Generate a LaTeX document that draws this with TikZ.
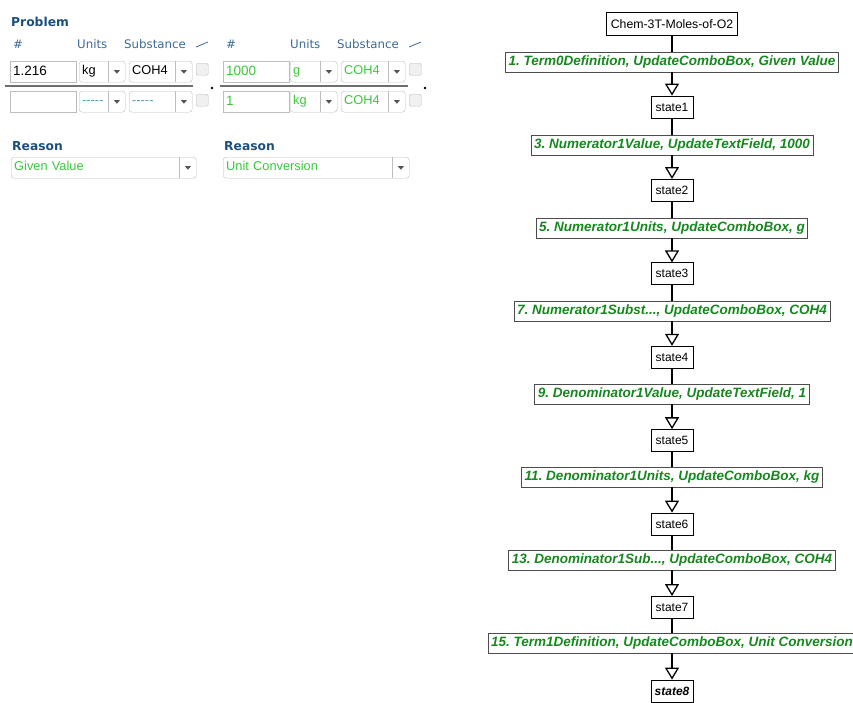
\documentclass[tikz,border=0pt]{standalone}
\usepackage{fontspec}
\setmainfont{Liberation Sans}
\newfontfamily\headfont{DejaVu Sans}
\usetikzlibrary{arrows.meta}
\frenchspacing

\begin{document}
\begin{tikzpicture}[x=1pt, y=-1pt,
    headtext/.style={anchor=west, inner sep=0pt, text=headBlue, font=\headfont\fontsize{12.3}{14}\selectfont\bfseries},
    coltext/.style={anchor=west, inner sep=0pt, text=colBlue, font=\headfont\fontsize{11.8}{14}\selectfont},
    fieldbox/.style={draw=fieldGrey, fill=white, anchor=north west, minimum height=21pt, inner xsep=3pt, inner ysep=0pt, text height=9.5pt, text depth=2.5pt, align=left, font=\fontsize{13.5}{15}\selectfont},
    combobox/.style={draw=fieldGrey, fill=white, rounded corners=3pt, anchor=north west, minimum height=21pt, inner xsep=3pt, inner ysep=0pt, text height=9pt, text depth=3pt, align=left, font=\fontsize{12.8}{15}\selectfont},
    checkbox/.style={draw=fieldGrey, fill=gray!12, rounded corners=1.5pt, anchor=north west, minimum size=12pt, inner sep=0pt},
    rootbox/.style={draw, fill=white, line width=0.8pt, minimum height=23pt, inner xsep=4pt, font=\fontsize{12.3}{14}\selectfont},
    statebox/.style={draw, fill=white, line width=0.8pt, minimum width=42pt, minimum height=22pt, inner xsep=2pt, font=\fontsize{12}{14}\selectfont},
    steplabel/.style={draw=black!70, fill=white, line width=0.8pt, minimum height=20pt, inner xsep=3pt, inner ysep=2pt, text=stepGreen, font=\fontsize{13.5}{15}\selectfont\bfseries\itshape},
    flowline/.style={line width=1.8pt},
    flowarrow/.style={line width=1.8pt, -{Triangle[open, length=12pt, width=14pt, line width=1.3pt]}}
]
    % Define colours
    \definecolor{headBlue}{HTML}{1B4F7E}
    \definecolor{colBlue}{HTML}{3C6A96}
    \definecolor{formGreen}{HTML}{3CC83C}
    \definecolor{stepGreen}{HTML}{16881E}
    \definecolor{fieldGrey}{HTML}{BDBDBD}
    \definecolor{ruleGrey}{HTML}{6E6E6E}
    \definecolor{arrowGrey}{HTML}{555555}
    \definecolor{dashTeal}{HTML}{45A3B0}

    % Define x position of the flow
    \def\flowX{672}

    \useasboundingbox (0,0) rectangle (853,702);

    % Problem and column headers
    \node[headtext] (problem) at (11,22) {Problem};
    \foreach \gx/\g in {0/a, 213/b} {
        \node[coltext] (hash\g) at (\gx+13,44) {\#};
        \node[coltext] (units\g) at (\gx+77,44) {Units};
        \node[coltext] (subst\g) at (\gx+124,44) {Substance};
        \draw[colBlue, line width=0.8pt] (\gx+196,47) -- (\gx+208,42);
    }

    % Draw the text fields
    \foreach \fx/\fy/\txt/\col [count=\n] in {10/61/1.216/black, 10/91//black, 223/61/1000/formGreen, 223/91/1/formGreen}
        \node[fieldbox, text width=60pt, text=\col] (field\n) at (\fx,\fy) {\txt};

    % Draw the combo boxes with their drop-down buttons
    \foreach \cx/\cy/\cw/\txt/\col [count=\n] in {79/61/46/kg/black, 129/61/63/COH4/black,
        79/91/46/-{}-{}-{}-{}-/dashTeal, 129/91/63/-{}-{}-{}-{}-/dashTeal,
        290/61/47/g/formGreen, 341/61/64/COH4/formGreen, 290/91/47/kg/formGreen, 341/91/64/COH4/formGreen,
        11/157/185/Given Value/formGreen, 223/157/186/Unit Conversion/formGreen} {
        \node[combobox, text width=\cw pt-6pt, text=\col] (combo\n) at (\cx,\cy) {\txt};
        \draw[fieldGrey] ([xshift=-17pt]combo\n.north east) -- ([xshift=-17pt]combo\n.south east);
        \fill[arrowGrey] ([xshift=-11.5pt,yshift=1.5pt]combo\n.east) -- ([xshift=-5.5pt,yshift=1.5pt]combo\n.east)
            -- ([xshift=-8.5pt,yshift=-2pt]combo\n.east) -- cycle;
    }

    % Draw the check boxes
    \foreach \bx/\by [count=\n] in {196/63, 196/94, 409/63, 409/94}
        \node[checkbox] (check\n) at (\bx,\by) {};

    % Fraction bars and multiplication dots
    \draw[ruleGrey, line width=2.2pt] (5,86) -- (193,86);
    \draw[ruleGrey, line width=2.2pt] (220,86) -- (408,86);
    \fill (212,88) circle (1.3pt);
    \fill (425,88) circle (1.3pt);

    % Reason headers
    \node[headtext] (reasona) at (12,146) {Reason};
    \node[headtext] (reasonb) at (224,146) {Reason};

    % Draw the graph nodes
    \node[rootbox] (root) at (\flowX,24) {Chem-3T-Moles-of-O2};
    \foreach \lab [count=\i] in {{1. Term0Definition, UpdateComboBox, Given Value},
        {3. Numerator1Value, UpdateTextField, 1000},
        {5. Numerator1Units, UpdateComboBox, g},
        {7. Numerator1Subst.{}.{}., UpdateComboBox, COH4},
        {9. Denominator1Value, UpdateTextField, 1},
        {11. Denominator1Units, UpdateComboBox, kg},
        {13. Denominator1Sub.{}.{}., UpdateComboBox, COH4},
        {15. Term1Definition, UpdateComboBox, Unit Conversion}}
        \node[steplabel] (label\i) at (\flowX,{62+83*(\i-1)}) {\lab};
    \foreach \i in {1,...,7}
        \node[statebox] (state\i) at (\flowX,{107+83.4*(\i-1)}) {state\i};
    \node[statebox, font=\fontsize{12}{14}\selectfont\bfseries\itshape] (state8) at (\flowX,691) {state8};

    % Draw the edges
    \draw[flowline] (root) -- (label1);
    \foreach \i in {1,...,8}
        \draw[flowarrow] (label\i) -- (state\i);
    \foreach \i [count=\j from 2] in {1,...,7}
        \draw[flowline] (state\i) -- (label\j);

\end{tikzpicture}
\end{document}
